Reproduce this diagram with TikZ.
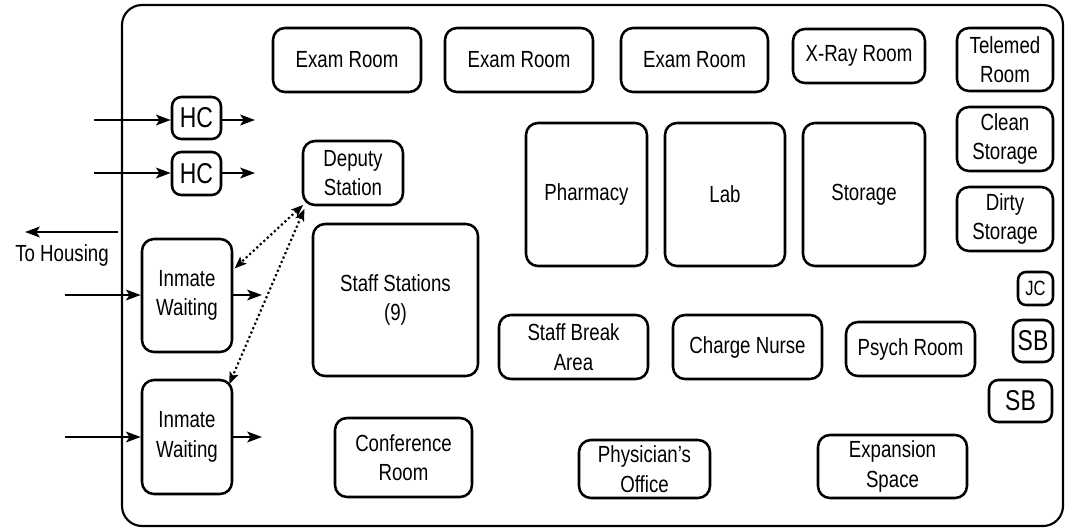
\documentclass[tikz,border=0pt]{standalone}
\usepackage{fontspec}
\setmainfont{Liberation Sans}[FakeStretch=0.8]
\usetikzlibrary{arrows.meta}
% \roombox[style]{name}{x1}{y1}{x2}{y2}{text}: a room spanning the given corners
\newcommand\roombox[7][room]{%
  \node[#1, minimum width={(#5-#3)*0.75pt}, minimum height={(#6-#4)*0.75pt}]
    (#2) at ({(#3+#5)/2},{(#4+#6)/2}) {#7};}
\begin{document}
\begin{tikzpicture}[x=0.75pt,y=-0.75pt,
  room/.style={draw, line width=1.9pt, rounded corners=9pt, inner sep=0pt,
    align=center, font=\fontsize{17.5}{22}\selectfont},
  outline/.style={draw, line width=1.6pt, rounded corners=15pt, inner sep=0pt},
  smallroom/.style={room, rounded corners=7pt, font=\fontsize{21.5}{24}\selectfont},
  jcroom/.style={room, rounded corners=6pt, font=\fontsize{15.5}{18}\selectfont},
  flow/.style={line width=1.7pt, -{Stealth[length=11pt,width=8pt,inset=2.5pt]}},
  link/.style={line width=1.6pt, dotted,
    {Stealth[length=9pt,width=7pt,inset=2pt]}-{Stealth[length=9pt,width=7pt,inset=2pt]}},
  label/.style={font=\fontsize{17.5}{22}\selectfont}]
\useasboundingbox (0,0) rectangle (1065,529);

% building outline
\roombox[outline]{plan}{122}{5}{1063}{526}{}

% top row
\roombox{exam1}{273}{28}{421}{92}{Exam Room}
\roombox{exam2}{445}{28}{593}{92}{Exam Room}
\roombox{exam3}{621}{28}{768}{92}{Exam Room}
\roombox{xray}{793}{29}{925}{83}{X-Ray Room}

% right column
\roombox{telemed}{957}{28}{1053}{91}{Telemed\\Room}
\roombox{clean}{957}{107}{1053}{171}{Clean\\Storage}
\roombox{dirty}{957}{187}{1053}{251}{Dirty\\Storage}
\roombox[jcroom]{jc}{1018}{272}{1053}{305}{JC}
\roombox[smallroom]{sb1}{1013}{320}{1053}{362}{SB}
\roombox[smallroom]{sb2}{989}{380}{1052}{422}{SB}

% core rooms
\roombox{pharmacy}{526}{123}{647}{266}{Pharmacy}
\roombox{lab}{665}{123}{785}{266}{Lab}
\roombox{storage}{803}{123}{925}{266}{Storage}
\roombox{breakarea}{499}{315}{648}{379}{Staff Break\\Area}
\roombox{charge}{673}{315}{822}{379}{Charge Nurse}
\roombox{psych}{846}{322}{975}{376}{Psych Room}
\roombox{conf}{335}{418}{472}{497}{Conference\\Room}
\roombox{physician}{579}{440}{710}{498}{Physician's\\Office}
\roombox{expansion}{818}{435}{967}{498}{Expansion\\Space}

% left side: entries, deputy and staff
\roombox[smallroom]{hc1}{172}{97}{221}{139}{HC}
\roombox[smallroom]{hc2}{172}{152}{221}{195}{HC}
\roombox{deputy}{303}{141}{403}{205}{Deputy\\Station}
\roombox{staff}{313}{224}{478}{376}{Staff Stations\\(9)}
\roombox{wait1}{142}{239}{232}{352}{Inmate\\Waiting}
\roombox{wait2}{142}{380}{232}{494}{Inmate\\Waiting}

% free ends of the flow arrows
\coordinate (hc1in) at (94,120);
\coordinate (hc1out) at (255,120);
\coordinate (hc2in) at (94,173);
\coordinate (hc2out) at (255,173);
\coordinate (w1in) at (65,295);
\coordinate (w1out) at (262,295);
\coordinate (w2in) at (65,437);
\coordinate (w2out) at (262,437);
\coordinate (houseA) at (118,232);
\coordinate (houseB) at (25,232);

\draw[flow] (hc1in) -- (hc1.west |- hc1in);
\draw[flow] (hc1.east |- hc1out) -- (hc1out);
\draw[flow] (hc2in) -- (hc2.west |- hc2in);
\draw[flow] (hc2.east |- hc2out) -- (hc2out);
\draw[flow] (w1in) -- (wait1.west |- w1in);
\draw[flow] (wait1.east |- w1out) -- (w1out);
\draw[flow] (w2in) -- (wait2.west |- w2in);
\draw[flow] (wait2.east |- w2out) -- (w2out);
\draw[flow] (houseA) -- (houseB);
\node[label] (housing) at (62,255) {To Housing};

% deputy sight lines
\draw[link] ([xshift=1pt,yshift=1pt]deputy.south west) -- ([xshift=1pt,yshift=-23pt]wait1.north east);
\draw[link] ([xshift=2pt,yshift=-2pt]deputy.south west) -- ([xshift=-3pt,yshift=-4pt]wait2.north east);
\end{tikzpicture}
\end{document}
